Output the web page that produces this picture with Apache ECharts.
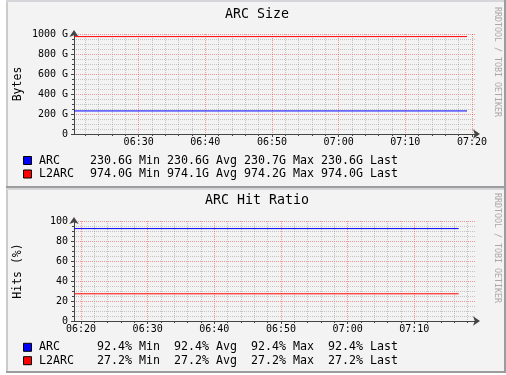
<!DOCTYPE html>
<html><head><meta charset="utf-8">
<script src="https://cdn.jsdelivr.net/npm/echarts@6/dist/echarts.min.js"></script>
<style>html,body{margin:0;padding:0;background:#fff}#c{width:506px;height:375px}</style>
</head><body><div id="c"></div>
<script>
// ---------- data ----------
const seriesNames = ['ARC', 'L2ARC'];
const statNames = ['Min', 'Avg', 'Max', 'Last'];
// chart 1: ARC Size (minutes since midnight, GB)
const sizeTimes = [380.3, 439.25];
const arcSize = [230.6, 230.6];
const l2arcSize = [974.0, 974.0];
const arcSizeStats = [230.6, 230.6, 230.7, 230.6];
const l2arcSizeStats = [974.0, 974.1, 974.2, 974.0];
const sizeXTickLabels = ['06:30', '06:40', '06:50', '07:00', '07:10', '07:20'];
const sizeYTicks = [0, 200, 400, 600, 800, 1000];
// chart 2: ARC Hit Ratio (minutes since midnight, %)
const hitTimes = [378.95, 436.65];
const arcHit = [92.4, 92.4];
const l2arcHit = [27.2, 27.2];
const arcHitStats = [92.4, 92.4, 92.4, 92.4];
const l2arcHitStats = [27.2, 27.2, 27.2, 27.2];
const hitXTickLabels = ['06:20', '06:30', '06:40', '06:50', '07:00', '07:10'];
const hitYTicks = [0, 20, 40, 60, 80, 100];

// ---------- helpers ----------
const MONO = 'DejaVu Sans Mono';
const COLORS = ['#0000ff', '#ff0000'];
const MAJ = 'rgba(240,0,0,0.38)';
const MIN = 'rgba(140,140,140,0.45)';
const AXIS = '#444444';
const toMin = s => { const p = s.split(':'); return (+p[0]) * 60 + (+p[1]); };
const fmtTime = v => { const m = Math.round(v); return String(Math.floor(m / 60)).padStart(2, '0') + ':' + String(m % 60).padStart(2, '0'); };
function minorList(min, max, majors) {
  const out = [];
  for (let t = Math.ceil(min / 2) * 2; t <= max; t += 2) if (majors.indexOf(t) < 0) out.push(t);
  return out;
}
function statLine(stats, unit) {
  return stats.map((v, i) => v.toFixed(1).padStart(6) + unit + ' ' + statNames[i]).join('');
}

const ranges = [[380.3, 440.6], [378.95, 439.25]];
const majorTicks = [sizeXTickLabels.map(toMin), hitXTickLabels.map(toMin)];

const xAxes = [];
const yAxes = [];
[0, 1].forEach(g => {
  const [mn, mx] = ranges[g];
  // minor grid axis
  xAxes.push({
    type: 'value', gridIndex: g, min: mn, max: mx, position: 'bottom',
    axisLine: { show: false },
    axisLabel: { show: false },
    axisTick: { show: true, customValues: minorList(mn, mx, majorTicks[g]), length: 2, lineStyle: { color: AXIS } },
    splitLine: { show: true, lineStyle: { color: MIN, width: 1, type: [1, 1] } }
  });
  // major axis
  xAxes.push({
    type: 'value', gridIndex: g, min: mn, max: mx, position: 'bottom',
    axisLine: { show: true, lineStyle: { color: AXIS, width: 1 }, symbol: ['none', 'arrow'], symbolSize: [7, 7], symbolOffset: [0, 4] },
    axisTick: { show: true, customValues: majorTicks[g], length: 3, lineStyle: { color: AXIS } },
    axisLabel: { customValues: majorTicks[g], formatter: fmtTime, fontFamily: MONO, fontSize: 10, color: '#000', margin: 3 },
    splitLine: { show: true, lineStyle: { color: MAJ, width: 1, type: [1, 1] } }
  });
});
const yMax = [sizeYTicks[sizeYTicks.length - 1], hitYTicks[hitYTicks.length - 1]];
const yInt = [sizeYTicks[1] - sizeYTicks[0], hitYTicks[1] - hitYTicks[0]];
[0, 1].forEach(g => {
  yAxes.push({
    type: 'value', gridIndex: g, min: 0, max: yMax[g], interval: yInt[g],
    axisLine: { show: true, lineStyle: { color: AXIS, width: 1 }, symbol: ['none', 'arrow'], symbolSize: [7, 7], symbolOffset: [0, 4] },
    axisTick: { show: true, length: 3, lineStyle: { color: AXIS } },
    minorTick: { show: true, splitNumber: 4, length: 2, lineStyle: { color: AXIS } },
    axisLabel: {
      fontFamily: MONO, fontSize: 10, color: '#000', margin: 6,
      formatter: v => g === 0 ? (v === 0 ? '0' : v + ' G') : String(v)
    },
    splitLine: { show: true, lineStyle: { color: MAJ, width: 1, type: [1, 1] } },
    minorSplitLine: { show: true, lineStyle: { color: MIN, width: 1, type: [1, 1] } }
  });
});

function mkSeries(name, times, vals, color, xi, yi) {
  return {
    type: 'line', name, xAxisIndex: xi, yAxisIndex: yi,
    data: times.map((t, i) => [t, vals[i]]),
    symbol: 'none', lineStyle: { color, width: 1 }, itemStyle: { color },
    silent: true, z: 5
  };
}

// ---------- decoration ----------
function txt(text, x, y, size, opts) {
  opts = opts || {};
  return {
    type: 'text', x, y, rotation: opts.rotation || 0, z: 50,
    style: {
      text, fill: opts.fill || '#000', font: size + 'px "' + MONO + '"',
      fontSize: size, fontFamily: MONO,
      align: opts.align || 'left', verticalAlign: 'middle',
      textAlign: opts.align || 'left', textVerticalAlign: 'middle'
    }
  };
}
function panel(y0, h) {
  return [
    { type: 'rect', shape: { x: 7, y: y0, width: 498, height: h }, style: { fill: '#f3f3f3' }, z: -100 },
    { type: 'rect', shape: { x: 6, y: y0, width: 2, height: h }, style: { fill: '#cccccc' }, z: -99 },
    { type: 'rect', shape: { x: 6, y: y0, width: 499, height: 2 }, style: { fill: '#d4d6d9' }, z: -99 },
    { type: 'rect', shape: { x: 6, y: y0 + h - 2, width: 500, height: 2 }, style: { fill: '#9c9c9c' }, z: -98 },
    { type: 'rect', shape: { x: 504, y: y0, width: 2, height: h }, style: { fill: '#9c9c9c' }, z: -98 }
  ];
}
function legendRow(name, color, stats, unit, y) {
  return [
    { type: 'rect', shape: { x: 23.5, y: y - 4, width: 8, height: 8 }, style: { fill: color, stroke: '#000', lineWidth: 1 }, z: 50 },
    txt(name, 39, y, 11.63),
    txt(statLine(stats, unit), 83, y, 11.63)
  ];
}

const graphics = [].concat(
  panel(0, 188), panel(188, 185),
  [txt('ARC Size', 257, 15, 13.3, { align: 'center' }),
   txt('ARC Hit Ratio', 257, 201, 13.3, { align: 'center' }),
   txt('Bytes', 18.5, 84, 11.5, { align: 'center', rotation: Math.PI / 2 }),
   txt('Hits (%)', 18.5, 271, 11.5, { align: 'center', rotation: Math.PI / 2 }),
   txt('RRDTOOL / TOBI OETIKER', 497, 62, 8.3, { align: 'center', rotation: -Math.PI / 2, fill: '#a8a8a8' }),
   txt('RRDTOOL / TOBI OETIKER', 497, 248, 8.3, { align: 'center', rotation: -Math.PI / 2, fill: '#a8a8a8' })],
  legendRow(seriesNames[0], COLORS[0], arcSizeStats, 'G', 160.5),
  legendRow(seriesNames[1], COLORS[1], l2arcSizeStats, 'G', 174),
  legendRow(seriesNames[0], COLORS[0], arcHitStats, '%', 347.3),
  legendRow(seriesNames[1], COLORS[1], l2arcHitStats, '%', 360.7)
);

const chart = echarts.init(document.getElementById('c'), null, { renderer: 'canvas' });
chart.setOption({
  animation: false,
  backgroundColor: '#ffffff',
  grid: [
    { left: 74, top: 34, width: 402, height: 100, containLabel: false },
    { left: 74, top: 221, width: 402, height: 100, containLabel: false }
  ],
  xAxis: xAxes,
  yAxis: yAxes,
  series: [
    mkSeries(seriesNames[0], sizeTimes, arcSize, COLORS[0], 1, 0),
    mkSeries(seriesNames[1], sizeTimes, l2arcSize, COLORS[1], 1, 0),
    mkSeries(seriesNames[0], hitTimes, arcHit, COLORS[0], 3, 1),
    mkSeries(seriesNames[1], hitTimes, l2arcHit, COLORS[1], 3, 1)
  ],
  graphic: { elements: graphics }
});
</script></body></html>
